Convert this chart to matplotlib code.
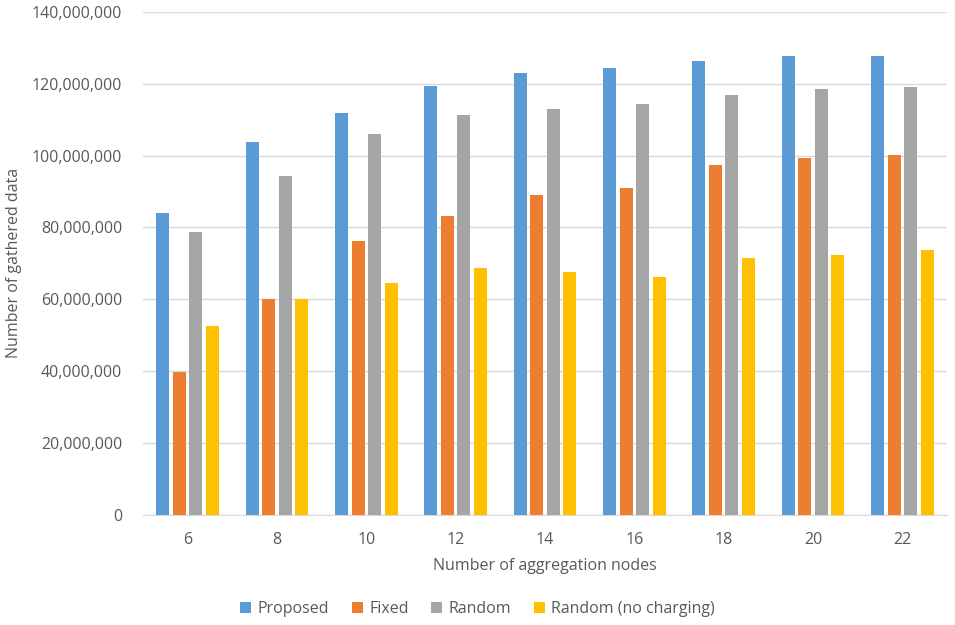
import numpy as np
import matplotlib
matplotlib.use('Agg')
import matplotlib.pyplot as plt
from matplotlib.ticker import FuncFormatter

plt.rcParams['font.family'] = ['Open Sans', 'DejaVu Sans']

# 数据（单位：百万）
nodes = ['6', '8', '10', '12', '14', '16', '18', '20', '22']
proposed = [84.0, 103.7, 111.8, 119.5, 123.1, 124.3, 126.2, 127.6, 127.6]
fixed = [39.8, 60.1, 76.2, 83.1, 89.0, 90.9, 97.3, 99.3, 100.1]
random_ = [78.7, 94.3, 105.9, 111.2, 113.1, 114.5, 117.0, 118.4, 119.0]
random_nc = [52.6, 60.1, 64.5, 68.7, 67.6, 66.2, 71.5, 72.3, 73.7]
labels = ['Proposed', 'Fixed', 'Random', 'Random (no charging)']
colors = ['#5B9BD5', '#ED7D31', '#A5A5A5', '#FFC000']

fig = plt.figure(figsize=(9.55, 6.25), dpi=100)
ax = fig.add_axes([0.1497, 0.176, 0.842, 0.805])

x = np.arange(len(nodes))
width = 0.146
step = 0.185
series = [proposed, fixed, random_, random_nc]
for i, (vals, lab, col) in enumerate(zip(series, labels, colors)):
    ax.bar(x + (i - 1.5) * step, np.array(vals) * 1e6, width, color=col, label=lab, zorder=3)

ax.set_xlim(-0.5, len(nodes) - 0.5)
ax.set_ylim(0, 140e6)
ax.set_yticks(np.arange(0, 140e6 + 1, 20e6))
ax.yaxis.set_major_formatter(FuncFormatter(lambda v, p: f'{int(v):,}'))
ax.set_xticks(x)
ax.set_xticklabels(nodes)

ax.grid(axis='y', color='#D9D9D9', linewidth=1, zorder=0)
for s in ['top', 'right', 'left']:
    ax.spines[s].set_visible(False)
ax.spines['bottom'].set_color('#D9D9D9')
ax.tick_params(axis='both', length=0, labelsize=11.5, colors='#595959')
ax.tick_params(axis='x', pad=12)
ax.tick_params(axis='y', pad=15)

ax.set_xlabel('Number of aggregation nodes', fontsize=11.5, color='#595959')
ax.set_ylabel('Number of gathered data', fontsize=11.5, color='#595959')
ax.xaxis.set_label_coords(0.5, -0.085)
ax.yaxis.set_label_coords(-0.151, 0.5)

leg = fig.legend(loc='lower center', ncol=4, bbox_to_anchor=(0.5, -0.01), frameon=False,
                 fontsize=11.5, handlelength=0.7, handleheight=0.7, handletextpad=0.4,
                 columnspacing=1.4)
for t in leg.get_texts():
    t.set_color('#595959')

fig.savefig('out.png', dpi=100)
